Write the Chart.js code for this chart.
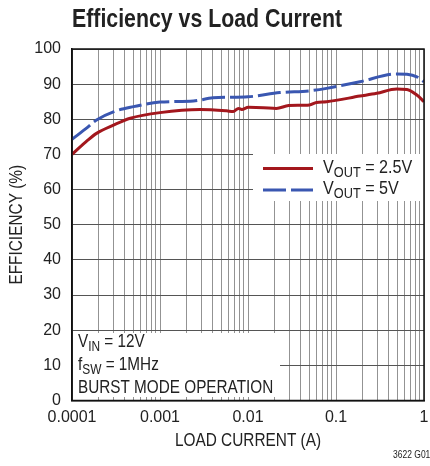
<!DOCTYPE html>
<html>
<head>
<meta charset="utf-8">
<script src="https://cdn.jsdelivr.net/npm/chart.js@4"></script>
<style>
	html, body { margin: 0; padding: 0; background: #fff; }
	#wrap { position: relative; width: 430px; height: 466px; }
</style>
</head>
<body>
<div id="wrap"><canvas id="effChart" width="430" height="466"></canvas></div>
<script>
// values
const current25 = [0.0001, 0.00015, 0.00019, 0.0003, 0.00046, 0.001, 0.00285, 0.0057, 0.0068, 0.0078, 0.0085, 0.0101, 0.015, 0.021, 0.029, 0.05, 0.06, 0.078, 0.187, 0.29, 0.49, 0.64, 0.83, 1];
const eff25 = [70, 74, 76, 78.4, 80.3, 81.9, 82.8, 82.4, 82.2, 83.1, 82.8, 83.4, 83.3, 83.1, 83.9, 84.1, 84.8, 85.0, 86.6, 87.4, 88.6, 88.5, 86.9, 85];

const current5 = [0.0001, 0.00015, 0.00019, 0.0003, 0.0005, 0.001, 0.0024, 0.004, 0.01, 0.023, 0.05, 0.078, 0.187, 0.49, 0.64, 0.83, 1];
const eff5 = [74.3, 77.7, 79.8, 82.2, 83.6, 84.9, 85.2, 86.1, 86.4, 87.6, 88.1, 88.8, 90.7, 92.9, 92.8, 92.1, 90.7];

const decades = [0.0001, 0.001, 0.01, 0.1, 1];
const decadeLabels = ['0.0001', '0.001', '0.01', '0.1', '1'];

const RED = '#a3171d';
const BLUE = '#3a57b1';
const FONT = '"Liberation Sans", Arial, sans-serif';
const NARROW = 0.85; // no condensed face installed, squeeze it by hand

Chart.defaults.font.family = FONT;
Chart.defaults.color = '#222';

function toPoints(xs, ys) {
	return xs.map((x, i) => ({ x: x, y: ys[i] }));
}

// minor ticks 1..9 in each decade
function logTicks() {
	const out = [];
	for (let i = 0; i < decades.length - 1; i++) {
		for (let m = 1; m <= 9; m++) out.push(m * decades[i]);
	}
	out.push(decades[decades.length - 1]);
	return out;
}

// squeezed text; sx picked so text is narrow like the datasheet font
function narrowText(ctx, text, x, y, font, sx, align) {
	ctx.save();
	ctx.font = font;
	const w = ctx.measureText(text).width * sx;
	let left = x;
	if (align === 'center') left = x - w / 2;
	ctx.translate(left, y);
	ctx.scale(sx, 1);
	ctx.textAlign = 'left';
	ctx.fillText(text, 0, 0);
	ctx.restore();
	return w;
}

// text with subscript pieces, e.g. [['V', 0], ['OUT', 1], [' = 5V', 0]]
function drawParts(ctx, parts, x, y, size) {
	let cx = x;
	ctx.textBaseline = 'alphabetic';
	parts.forEach(p => {
		const sub = p[1];
		const f = (sub ? Math.round(size * 0.8) : size) + 'px ' + FONT;
		cx += narrowText(ctx, p[0], cx, y + (sub ? 4 : 0), f, NARROW, 'left');
	});
}

const decorPlugin = {
	id: 'decor',
	beforeDatasetsDraw(chart) {
		const ctx = chart.ctx;
		ctx.save();
		// legend box
		ctx.fillStyle = '#fff';
		ctx.fillRect(253, 154, 171, 47);
		// conditions box (grid stubs left showing at top and bottom)
		ctx.fillRect(73, 333, 207, 64);

		ctx.lineWidth = 3;
		ctx.strokeStyle = RED;
		ctx.beginPath();
		ctx.moveTo(263, 168.5);
		ctx.lineTo(313, 168.5);
		ctx.stroke();
		ctx.strokeStyle = BLUE;
		ctx.setLineDash([23, 5]);
		ctx.beginPath();
		ctx.moveTo(263, 190);
		ctx.lineTo(313, 190);
		ctx.stroke();
		ctx.setLineDash([]);

		ctx.fillStyle = '#222';
		drawParts(ctx, [['V', 0], ['OUT', 1], [' = 2.5V', 0]], 323, 173, 19);
		drawParts(ctx, [['V', 0], ['OUT', 1], [' = 5V', 0]], 323, 194, 19);

		drawParts(ctx, [['V', 0], ['IN', 1], [' = 12V', 0]], 78, 347, 18);
		drawParts(ctx, [['f', 0], ['SW', 1], [' = 1MHz', 0]], 78, 370, 18);
		drawParts(ctx, [['BURST MODE OPERATION', 0]], 78, 393, 18);
		ctx.restore();
	},
	afterDatasetsDraw(chart) {
		const ctx = chart.ctx;
		const a = chart.chartArea;
		ctx.save();
		ctx.strokeStyle = '#111';
		ctx.lineWidth = 1.5;
		ctx.strokeRect(a.left, a.top, a.right - a.left, a.bottom - a.top);

		ctx.fillStyle = '#222';
		ctx.textBaseline = 'alphabetic';
		// title squeezed to the datasheet width
		ctx.font = 'bold 25px ' + FONT;
		const tw = ctx.measureText('Efficiency vs Load Current').width;
		narrowText(ctx, 'Efficiency vs Load Current', 72, 27, 'bold 25px ' + FONT, 270 / tw, 'left');

		ctx.textBaseline = 'middle';
		narrowText(ctx, 'LOAD CURRENT (A)', (a.left + a.right) / 2, 441, '19px ' + FONT, 0.81, 'center');

		ctx.save();
		ctx.translate(17, (a.top + a.bottom) / 2);
		ctx.rotate(-Math.PI / 2);
		narrowText(ctx, 'EFFICIENCY (%)', 0, 0, '19px ' + FONT, 0.81, 'center');
		ctx.restore();

		ctx.textBaseline = 'alphabetic';
		narrowText(ctx, '3622 G01', 393, 458, '10px ' + FONT, 0.85, 'left');
		ctx.restore();
	}
};

const ctx = document.getElementById('effChart').getContext('2d');
new Chart(ctx, {
	type: 'line',
	data: {
		datasets: [
			{
				label: 'VOUT = 2.5V',
				data: toPoints(current25, eff25),
				borderColor: RED,
				borderWidth: 3,
				pointRadius: 0,
				tension: 0.3,
				cubicInterpolationMode: 'monotone'
			},
			{
				label: 'VOUT = 5V',
				data: toPoints(current5, eff5),
				borderColor: BLUE,
				borderWidth: 3,
				borderDash: [23, 5],
				pointRadius: 0,
				tension: 0.3,
				cubicInterpolationMode: 'monotone'
			}
		]
	},
	options: {
		responsive: false,
		animation: false,
		layout: { padding: { left: 0, top: 49, right: 6, bottom: 0 } },
		plugins: {
			legend: { display: false },
			title: { display: false },
			tooltip: { enabled: false }
		},
		scales: {
			x: {
				type: 'logarithmic',
				min: 0.0001,
				max: 1,
				afterBuildTicks: scale => {
					scale.ticks = logTicks().map(v => ({ value: v }));
				},
				afterFit: scale => {
					scale.height = 65.5;
					scale.paddingLeft = 0;
					scale.paddingRight = 0;
				},
				grid: { color: '#939393', lineWidth: 1, drawTicks: false },
				border: { color: '#111', width: 1.5 },
				ticks: {
					autoSkip: false,
					maxRotation: 0,
					padding: 7,
					font: { size: 16 },
					color: '#222',
					callback: value => {
						const i = decades.indexOf(value);
						return i === -1 ? '' : decadeLabels[i];
					}
				}
			},
			y: {
				min: 0,
				max: 100,
				afterFit: scale => { scale.width = 72; },
				grid: { color: '#555', lineWidth: 1, drawTicks: false },
				border: { color: '#111', width: 1.5 },
				ticks: {
					stepSize: 10,
					padding: 11,
					font: { size: 16 },
					color: '#222'
				}
			}
		}
	},
	plugins: [decorPlugin]
});
</script>
</body>
</html>
